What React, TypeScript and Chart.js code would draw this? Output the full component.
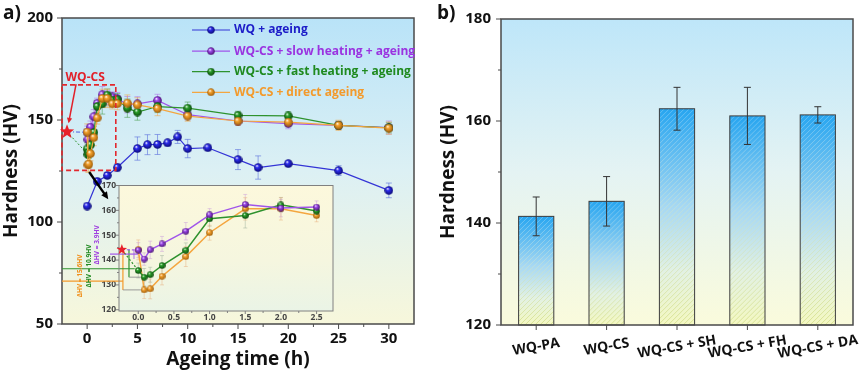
import React, { useEffect, useRef } from 'react';
import { Chart, registerables } from 'chart.js';

Chart.register(...registerables);

const FONT = '"Open Sans", "DejaVu Sans", sans-serif';

// ---------------- Panel a) data ----------------
const WQ_TIME = [0, 1, 2, 3, 5, 6, 7, 8, 9, 10, 12, 15, 17, 20, 25, 30];
const WQ_HV = [107.8, 119.9, 122.8, 126.7, 136.0, 137.9, 138.0, 138.8, 141.7, 136.0, 136.4, 130.6, 126.7, 128.6, 125.2, 115.5];
const WQ_ERR = [1.0, 1.5, 1.5, 2.0, 5.7, 4.9, 4.9, 1.5, 3.2, 4.5, 1.2, 4.9, 5.7, 1.2, 2.4, 3.6];

const CS_TIME = [0, 0.083, 0.167, 0.333, 0.667, 1, 1.5, 2, 2.5, 3, 4, 5, 7, 10, 15, 20, 25, 30];
const SH_HV = [144.0, 140.4, 144.1, 146.5, 151.6, 158.2, 162.4, 160.9, 161.3, 160.5, 157.5, 157.9, 159.6, 152.6, 149.5, 148.2, 147.4, 146.3];
const SH_ERR = [3.0, 2.5, 3.5, 3.0, 3.5, 2.5, 4.0, 3.5, 2.5, 3.0, 4.0, 3.5, 3.0, 2.5, 2.0, 2.5, 2.0, 3.2];
const FH_HV = [135.8, 133.1, 134.1, 137.8, 143.9, 156.6, 157.9, 162.2, 159.7, 160.0, 155.8, 153.9, 156.6, 155.8, 152.3, 152.0, 147.4, 146.2];
const FH_ERR = [3.0, 3.5, 3.0, 4.0, 3.0, 3.0, 5.0, 3.0, 2.5, 3.0, 4.5, 4.0, 3.0, 3.0, 2.0, 2.0, 2.0, 2.5];
const DA_HV = [144.1, 128.0, 128.4, 133.5, 141.4, 151.0, 160.6, 160.6, 157.9, 158.0, 158.3, 157.4, 155.6, 151.9, 149.5, 149.0, 147.4, 146.0];
const DA_ERR = [4.0, 3.5, 4.0, 3.5, 4.0, 3.0, 4.5, 4.5, 2.5, 3.0, 4.0, 3.5, 3.5, 2.5, 2.0, 2.0, 2.5, 3.0];

const WQCS_TIME = -2.0;
const WQCS_HV = 144.2;
const INSET_WQCS_TIME = -0.23;

const X_TICKS = [0, 5, 10, 15, 20, 25, 30];
const Y_TICKS = [50, 100, 150, 200];
const INSET_X_TICKS = [0, 0.5, 1, 1.5, 2, 2.5];
const INSET_Y_TICKS = [120, 130, 140, 150, 160, 170];
const INSET_T_MAX = 2.5;

const LEGEND_LABELS = [
  'WQ + ageing',
  'WQ-CS + slow heating + ageing',
  'WQ-CS + fast heating + ageing',
  'WQ-CS + direct ageing',
];
const DELTA_LABELS = ['ΔHV = 15.6HV', 'ΔHV = 10.9HV', 'ΔHV = 3.9HV'];

// ---------------- Panel b) data ----------------
const B_CATEGORIES = ['WQ-PA', 'WQ-CS', 'WQ-CS + SH', 'WQ-CS + FH', 'WQ-CS + DA'];
const B_HV = [141.3, 144.25, 162.4, 161.0, 161.2];
const B_ERR = [3.8, 4.85, 4.2, 5.6, 1.6];
const B_Y_TICKS = [120, 140, 160, 180];

// ---------------- helpers ----------------
function makeSphere(base: string, dark: string, size: number) {
  const c = document.createElement('canvas');
  c.width = size;
  c.height = size;
  const ctx = c.getContext('2d') as CanvasRenderingContext2D;
  const r = size / 2;
  const g = ctx.createRadialGradient(r * 0.7, r * 0.6, r * 0.05, r, r, r);
  g.addColorStop(0, '#ffffff');
  g.addColorStop(0.3, base);
  g.addColorStop(1, dark);
  ctx.fillStyle = g;
  ctx.beginPath();
  ctx.arc(r, r, r - 0.2, 0, Math.PI * 2);
  ctx.fill();
  return c;
}

function midpoints(v: number[]) {
  const out: number[] = [];
  for (let i = 0; i < v.length - 1; i++) out.push((v[i] + v[i + 1]) / 2);
  return out;
}

function drawStar(ctx: CanvasRenderingContext2D, cx: number, cy: number, R: number, r: number, color: string) {
  ctx.save();
  ctx.fillStyle = color;
  ctx.beginPath();
  for (let i = 0; i < 10; i++) {
    const rad = i % 2 === 0 ? R : r;
    const a = -Math.PI / 2 + (i * Math.PI) / 5;
    const x = cx + rad * Math.cos(a);
    const y = cy + rad * Math.sin(a);
    if (i === 0) ctx.moveTo(x, y);
    else ctx.lineTo(x, y);
  }
  ctx.closePath();
  ctx.fill();
  ctx.restore();
}

function drawArrow(ctx: CanvasRenderingContext2D, x1: number, y1: number, x2: number, y2: number, color: string, lw: number, head: number) {
  const ang = Math.atan2(y2 - y1, x2 - x1);
  ctx.save();
  ctx.strokeStyle = color;
  ctx.fillStyle = color;
  ctx.lineWidth = lw;
  ctx.beginPath();
  ctx.moveTo(x1, y1);
  ctx.lineTo(x2 - head * 0.7 * Math.cos(ang), y2 - head * 0.7 * Math.sin(ang));
  ctx.stroke();
  ctx.beginPath();
  ctx.moveTo(x2, y2);
  ctx.lineTo(x2 - head * Math.cos(ang - 0.45), y2 - head * Math.sin(ang - 0.45));
  ctx.lineTo(x2 - head * Math.cos(ang + 0.45), y2 - head * Math.sin(ang + 0.45));
  ctx.closePath();
  ctx.fill();
  ctx.restore();
}

function drawErrBars(ctx: CanvasRenderingContext2D, xs: any, ys: any, t: number[], v: number[], e: number[], color: string, cap: number, lw = 1) {
  ctx.save();
  ctx.strokeStyle = color;
  ctx.lineWidth = lw;
  ctx.beginPath();
  t.forEach((x, i) => {
    const px = xs.getPixelForValue(x);
    const y1 = ys.getPixelForValue(v[i] - e[i]);
    const y2 = ys.getPixelForValue(v[i] + e[i]);
    ctx.moveTo(px, y1);
    ctx.lineTo(px, y2);
    ctx.moveTo(px - cap, y1);
    ctx.lineTo(px + cap, y1);
    ctx.moveTo(px - cap, y2);
    ctx.lineTo(px + cap, y2);
  });
  ctx.stroke();
  ctx.restore();
}

function drawFrameTicks(chart: any, xMaj: number[], xMin: number[], yMaj: number[], yMin: number[], color: string, lw: number, major: number, minor: number) {
  const { ctx, chartArea: a, scales } = chart;
  ctx.save();
  ctx.strokeStyle = color;
  ctx.lineWidth = lw;
  ctx.strokeRect(a.left, a.top, a.right - a.left, a.bottom - a.top);
  ctx.lineWidth = 1;
  ctx.beginPath();
  const xt = (v: number, len: number) => {
    const p = scales.x.getPixelForValue(v);
    ctx.moveTo(p, a.bottom);
    ctx.lineTo(p, a.bottom + len);
  };
  const yt = (v: number, len: number) => {
    const p = scales.y.getPixelForValue(v);
    ctx.moveTo(a.left, p);
    ctx.lineTo(a.left - len, p);
  };
  xMaj.forEach((v) => xt(v, major));
  xMin.forEach((v) => xt(v, minor));
  yMaj.forEach((v) => yt(v, major));
  yMin.forEach((v) => yt(v, minor));
  ctx.stroke();
  ctx.restore();
}

function bgGradient(chart: any, stops: [number, string][]) {
  const { ctx, chartArea: a } = chart;
  const g = ctx.createLinearGradient(0, a.top, 0, a.bottom);
  stops.forEach(([o, c]) => g.addColorStop(o, c));
  ctx.save();
  ctx.fillStyle = g;
  ctx.fillRect(a.left, a.top, a.right - a.left, a.bottom - a.top);
  ctx.restore();
}

const tickFont = (size: number) => ({ family: FONT, size, weight: 'bold' as const });

export default function App() {
  const mainRef = useRef<HTMLCanvasElement>(null);
  const insetRef = useRef<HTMLCanvasElement>(null);
  const barRef = useRef<HTMLCanvasElement>(null);

  useEffect(() => {
    const charts: any[] = [];

    const SERIES = [
      { label: LEGEND_LABELS[0], t: WQ_TIME, v: WQ_HV, e: WQ_ERR, line: '#3434d6', text: '#1c1cc8', err: 'rgba(90,110,220,0.6)', base: '#2c2cf0', dark: '#0a0a70', order: 3 },
      { label: LEGEND_LABELS[1], t: CS_TIME, v: SH_HV, e: SH_ERR, line: '#a055ea', text: '#9a33e0', err: 'rgba(170,110,230,0.55)', base: '#a24df0', dark: '#45106e', order: 2 },
      { label: LEGEND_LABELS[2], t: CS_TIME, v: FH_HV, e: FH_ERR, line: '#2e922e', text: '#1f8a1f', err: 'rgba(60,150,60,0.5)', base: '#2aa02a', dark: '#0a450a', order: 1 },
      { label: LEGEND_LABELS[3], t: CS_TIME, v: DA_HV, e: DA_ERR, line: '#f4a640', text: '#f39a2c', err: 'rgba(240,165,70,0.55)', base: '#f8a530', dark: '#9a5a08', order: 0 },
    ];
    const bigSpheres = SERIES.map((s) => makeSphere(s.base, s.dark, 9));
    const smallSpheres = SERIES.map((s) => makeSphere(s.base, s.dark, 7));

    // ---------------- main chart (a) ----------------
    const mainPlugin = {
      id: 'mainDecor',
      beforeDraw(chart: any) {
        bgGradient(chart, [[0, '#b9e3f8'], [0.5, '#dcf0f4'], [1, '#f7f7db']]);
      },
      beforeDatasetsDraw(chart: any) {
        const { ctx } = chart;
        const xs = chart.scales.x, ys = chart.scales.y;
        SERIES.forEach((s) => drawErrBars(ctx, xs, ys, s.t, s.v, s.e, s.err, 3));
        const sx = xs.getPixelForValue(WQCS_TIME), sy = ys.getPixelForValue(WQCS_HV);
        ctx.save();
        ctx.lineWidth = 1;
        ctx.setLineDash([4, 2, 1, 2]);
        ctx.strokeStyle = '#4d5de0';
        ctx.beginPath();
        ctx.moveTo(sx, sy);
        ctx.lineTo(xs.getPixelForValue(CS_TIME[0]), ys.getPixelForValue(SH_HV[0]));
        ctx.stroke();
        ctx.setLineDash([2, 2]);
        ctx.strokeStyle = '#2e922e';
        ctx.beginPath();
        ctx.moveTo(sx, sy);
        ctx.lineTo(xs.getPixelForValue(CS_TIME[1]), ys.getPixelForValue(FH_HV[1]));
        ctx.stroke();
        ctx.restore();
      },
      afterDraw(chart: any) {
        const { ctx, chartArea: a } = chart;
        const xs = chart.scales.x, ys = chart.scales.y;
        drawFrameTicks(chart, X_TICKS, midpoints(X_TICKS), Y_TICKS, midpoints(Y_TICKS), '#4a4a4a', 1.5, 5, 3);

        // red dashed box around the early-stage region
        ctx.save();
        ctx.strokeStyle = '#e2282e';
        ctx.lineWidth = 1.6;
        ctx.setLineDash([5, 3]);
        const bx1 = xs.getPixelForValue(-2.5), bx2 = xs.getPixelForValue(2.85);
        const by1 = ys.getPixelForValue(167.2), by2 = ys.getPixelForValue(125.3);
        ctx.strokeRect(bx1, by1, bx2 - bx1, by2 - by1);
        ctx.restore();

        // star (WQ-CS state)
        drawStar(ctx, xs.getPixelForValue(WQCS_TIME), ys.getPixelForValue(WQCS_HV), 7.5, 3.2, '#e8202a');

        // WQ-CS label + arrow
        ctx.save();
        ctx.fillStyle = '#e2202a';
        ctx.font = `bold 12px ${FONT}`;
        ctx.textAlign = 'center';
        ctx.textBaseline = 'middle';
        ctx.fillText('WQ-CS', xs.getPixelForValue(-0.2), ys.getPixelForValue(171));
        ctx.restore();
        drawArrow(ctx, xs.getPixelForValue(-1.1), ys.getPixelForValue(167.6), xs.getPixelForValue(-1.85), ys.getPixelForValue(148.4), '#e2202a', 1.5, 6);

        // black arrow towards the inset
        drawArrow(ctx, xs.getPixelForValue(0.2), ys.getPixelForValue(124.5), xs.getPixelForValue(2.1), ys.getPixelForValue(111.2), '#000', 2.4, 8);

        // legend
        const rows = [12, 33.2, 53.7, 74.3];
        SERIES.forEach((s, i) => {
          const y = a.top + rows[i];
          ctx.save();
          ctx.strokeStyle = s.line;
          ctx.lineWidth = 1.2;
          ctx.beginPath();
          ctx.moveTo(a.left + 130, y);
          ctx.lineTo(a.left + 168, y);
          ctx.stroke();
          ctx.drawImage(bigSpheres[i], a.left + 149 - 4, y - 4, 8, 8);
          ctx.fillStyle = s.text;
          ctx.font = `bold 12px ${FONT}`;
          ctx.textAlign = 'left';
          ctx.textBaseline = 'middle';
          ctx.fillText(s.label, a.left + 172, y);
          ctx.restore();
        });

        // panel letter
        ctx.save();
        ctx.fillStyle = '#111';
        ctx.font = `bold 19px ${FONT}`;
        ctx.textBaseline = 'alphabetic';
        ctx.fillText('a)', 3, 18.5);
        ctx.restore();
      },
    };

    if (mainRef.current) {
      charts.push(
        new Chart(mainRef.current, {
          type: 'line',
          data: {
            datasets: SERIES.map((s, i) => ({
              label: s.label,
              data: s.t.map((x, k) => ({ x, y: s.v[k] })),
              borderColor: s.line,
              backgroundColor: s.line,
              borderWidth: 1.2,
              pointStyle: bigSpheres[i],
              pointRadius: 4.5,
              tension: 0,
              order: s.order,
            })),
          },
          options: {
            responsive: false,
            animation: false,
            layout: { padding: { left: 0, right: 21, top: 14, bottom: 0 } },
            plugins: { legend: { display: false }, tooltip: { enabled: false } },
            scales: {
              x: {
                type: 'linear',
                min: -2.5,
                max: 32.5,
                afterBuildTicks: (s: any) => { s.ticks = X_TICKS.map((value) => ({ value })); },
                afterFit: (s: any) => { s.height = 49; },
                grid: { display: false, drawTicks: false },
                border: { display: false },
                ticks: { padding: 6, color: '#111', font: tickFont(15), autoSkip: false, maxRotation: 0 },
                title: { display: true, text: 'Ageing time (h)', color: '#111', font: tickFont(19), padding: { top: 0, bottom: 2 } },
              },
              y: {
                type: 'linear',
                min: 50,
                max: 200,
                afterBuildTicks: (s: any) => { s.ticks = Y_TICKS.map((value) => ({ value })); },
                afterFit: (s: any) => { s.width = 62; },
                grid: { display: false, drawTicks: false },
                border: { display: false },
                ticks: { padding: 9, color: '#111', font: tickFont(15) },
                title: { display: true, text: 'Hardness (HV)', color: '#111', font: tickFont(19), padding: { top: 0, bottom: 0 } },
              },
            },
          },
          plugins: [mainPlugin],
        } as any)
      );
    }

    // ---------------- inset chart ----------------
    const nIn = CS_TIME.filter((t) => t <= INSET_T_MAX).length;
    const INSET_SERIES = SERIES.slice(1).map((s, i) => ({ ...s, t: s.t.slice(0, nIn), v: s.v.slice(0, nIn), e: s.e.slice(0, nIn), sphere: smallSpheres[i + 1] }));

    const insetPlugin = {
      id: 'insetDecor',
      beforeDraw(chart: any) {
        bgGradient(chart, [[0, '#fcf8dc'], [0.6, '#f5f6df'], [1, '#eaf4e6']]);
      },
      beforeDatasetsDraw(chart: any) {
        const { ctx, chartArea: a } = chart;
        const xs = chart.scales.x, ys = chart.scales.y;
        ctx.save();
        ctx.beginPath();
        ctx.rect(a.left, a.top, a.right - a.left, a.bottom - a.top);
        ctx.clip();
        const faint = ['rgba(200,150,220,0.45)', 'rgba(150,170,150,0.45)', 'rgba(230,170,120,0.45)'];
        INSET_SERIES.forEach((s, i) => drawErrBars(ctx, xs, ys, s.t, s.v, s.e, faint[i], 2));
        ctx.restore();

        const sx = xs.getPixelForValue(INSET_WQCS_TIME), sy = ys.getPixelForValue(WQCS_HV);
        const X = (v: number) => xs.getPixelForValue(v);
        const Y = (v: number) => ys.getPixelForValue(v);
        ctx.save();
        ctx.lineWidth = 1.2;
        const seg = (x1: number, y1: number, x2: number, y2: number, c: string, dash: number[] = []) => {
          ctx.strokeStyle = c;
          ctx.setLineDash(dash);
          ctx.beginPath();
          ctx.moveTo(x1, y1);
          ctx.lineTo(x2, y2);
          ctx.stroke();
        };
        seg(0, Y(131.5), X(-0.215), Y(131.5), '#f39a2c');
        seg(X(-0.215), Y(WQCS_HV), X(-0.215), Y(DA_HV[1]), '#f39a2c');
        seg(X(-0.215), Y(DA_HV[1]), X(CS_TIME[1]), Y(DA_HV[1]), 'rgba(150,150,150,0.8)');
        seg(0, Y(136.5), X(-0.05), Y(136.5), '#2e922e');
        seg(X(-0.13), Y(WQCS_HV), X(-0.13), Y(FH_HV[1]), '#2e922e');
        seg(X(-0.13), Y(FH_HV[1]), X(CS_TIME[1]), Y(FH_HV[1]), 'rgba(150,150,150,0.8)');
        seg(a.left - 9, Y(142.4), X(0), Y(142.4), '#a055ea');
        seg(X(-0.06), Y(WQCS_HV), X(-0.06), Y(SH_HV[1]), 'rgba(160,90,230,0.7)');
        seg(sx, sy, X(CS_TIME[0]), Y(FH_HV[0]), '#2e922e', [2, 2]);
        seg(sx, sy, X(CS_TIME[0]), Y(SH_HV[0]), '#a055ea', [3, 2]);
        ctx.restore();

        const texts = [
          { t: DELTA_LABELS[0], c: '#f0901c', dx: -39, hv: 133.6 },
          { t: DELTA_LABELS[1], c: '#228a22', dx: -29.5, hv: 137.6 },
          { t: DELTA_LABELS[2], c: '#a040e0', dx: -21.5, hv: 146.1 },
        ];
        texts.forEach((o) => {
          ctx.save();
          ctx.translate(a.left + o.dx, Y(o.hv));
          ctx.rotate(-Math.PI / 2);
          ctx.fillStyle = o.c;
          ctx.font = `bold 6.5px ${FONT}`;
          ctx.textAlign = 'center';
          ctx.textBaseline = 'middle';
          ctx.fillText(o.t, 0, 0);
          ctx.restore();
        });
      },
      afterDraw(chart: any) {
        const xs = chart.scales.x, ys = chart.scales.y;
        drawFrameTicks(chart, INSET_X_TICKS, midpoints(INSET_X_TICKS), INSET_Y_TICKS, midpoints(INSET_Y_TICKS), '#808080', 1, 3, 2);
        drawStar(chart.ctx, xs.getPixelForValue(INSET_WQCS_TIME), ys.getPixelForValue(WQCS_HV), 5.5, 2.3, '#e8202a');
      },
    };

    if (insetRef.current) {
      charts.push(
        new Chart(insetRef.current, {
          type: 'line',
          data: {
            datasets: INSET_SERIES.map((s) => ({
              label: s.label,
              data: s.t.map((x, k) => ({ x, y: s.v[k] })),
              borderColor: s.line,
              backgroundColor: s.line,
              borderWidth: 1.5,
              pointStyle: s.sphere,
              pointRadius: 3.5,
              tension: 0,
              order: 3 - s.order,
            })),
          },
          options: {
            responsive: false,
            animation: false,
            layout: { padding: { left: 0, right: 12, top: 9.5, bottom: 0 } },
            plugins: { legend: { display: false }, tooltip: { enabled: false } },
            scales: {
              x: {
                type: 'linear',
                min: -0.27,
                max: 2.73,
                afterBuildTicks: (s: any) => { s.ticks = INSET_X_TICKS.map((value) => ({ value })); },
                afterFit: (s: any) => { s.height = 14; },
                grid: { display: false, drawTicks: false },
                border: { display: false },
                ticks: { padding: 1, color: '#444', font: tickFont(8.5), autoSkip: false, maxRotation: 0, callback: (v: any) => Number(v).toFixed(1) },
              },
              y: {
                type: 'linear',
                min: 119.5,
                max: 170,
                afterBuildTicks: (s: any) => { s.ticks = INSET_Y_TICKS.map((value) => ({ value })); },
                afterFit: (s: any) => { s.width = 57; },
                grid: { display: false, drawTicks: false },
                border: { display: false },
                ticks: { padding: 3, color: '#444', font: tickFont(8.5) },
              },
            },
          },
          plugins: [insetPlugin],
        } as any)
      );
    }

    // ---------------- bar chart (b) ----------------
    const barPlugin = {
      id: 'barDecor',
      beforeDraw(chart: any) {
        bgGradient(chart, [[0, '#bee6f9'], [0.5, '#e4f3f3'], [1, '#fafbdc']]);
      },
      afterDatasetsDraw(chart: any) {
        const { ctx, chartArea: a } = chart;
        const meta = chart.getDatasetMeta(0);
        meta.data.forEach((bar: any) => {
          const p = bar.getProps(['x', 'y', 'base', 'width'], true);
          const x0 = p.x - p.width / 2;
          const y = Math.max(p.y, a.top);
          const base = Math.min(p.base, a.bottom);
          const h = base - y;
          const width = p.width;
          ctx.save();
          ctx.beginPath();
          ctx.rect(x0, y, width, h);
          ctx.clip();
          const g = ctx.createLinearGradient(0, y, 0, base);
          g.addColorStop(0, 'rgba(255,255,255,0.25)');
          g.addColorStop(1, 'rgba(190,205,100,0.5)');
          ctx.strokeStyle = g;
          ctx.lineWidth = 1;
          ctx.beginPath();
          for (let k = -h; k < width + 5; k += 5) {
            ctx.moveTo(x0 + k, base);
            ctx.lineTo(x0 + k + h, y);
          }
          ctx.stroke();
          ctx.restore();
          ctx.save();
          ctx.strokeStyle = '#3d3d3d';
          ctx.lineWidth = 1;
          ctx.strokeRect(x0, y, width, h);
          ctx.restore();
        });
        drawErrBars(ctx, chart.scales.x, chart.scales.y, B_HV.map((_, i) => i), B_HV, B_ERR, '#333', 3.5);
      },
      afterDraw(chart: any) {
        const { ctx, chartArea: a } = chart;
        const xs = chart.scales.x;
        drawFrameTicks(chart, B_CATEGORIES.map((_, i) => i), [], B_Y_TICKS, midpoints(B_Y_TICKS), '#4a4a4a', 1.5, 5, 3);
        B_CATEGORIES.forEach((lab, i) => {
          ctx.save();
          ctx.translate(xs.getPixelForValue(i), a.bottom + 22);
          ctx.rotate((-10 * Math.PI) / 180);
          ctx.fillStyle = '#111';
          ctx.font = `bold 14px ${FONT}`;
          ctx.textAlign = 'center';
          ctx.textBaseline = 'middle';
          ctx.fillText(lab, 0, 0);
          ctx.restore();
        });
        ctx.save();
        ctx.fillStyle = '#111';
        ctx.font = `bold 19px ${FONT}`;
        ctx.textBaseline = 'alphabetic';
        ctx.fillText('b)', 2, 18.5);
        ctx.restore();
      },
    };

    if (barRef.current) {
      charts.push(
        new Chart(barRef.current, {
          type: 'bar',
          data: {
            labels: B_CATEGORIES,
            datasets: [
              {
                label: 'Hardness',
                data: B_HV,
                base: B_Y_TICKS[0],
                borderWidth: 0,
                barPercentage: 0.5,
                categoryPercentage: 1.0,
                backgroundColor: (c: any) => {
                  const chart = c.chart;
                  const area = chart.chartArea;
                  if (!area || c.type !== 'data' || !chart.scales.y) return '#29a9f1';
                  const top = chart.scales.y.getPixelForValue(c.raw);
                  const g = chart.ctx.createLinearGradient(0, top, 0, area.bottom);
                  g.addColorStop(0, '#26a5f0');
                  g.addColorStop(0.45, '#a6d8f3');
                  g.addColorStop(0.75, '#e2f1e4');
                  g.addColorStop(1, '#f4f8c2');
                  return g;
                },
              },
            ],
          },
          options: {
            responsive: false,
            animation: false,
            layout: { padding: { left: 0, right: 12, top: 14, bottom: 0 } },
            plugins: { legend: { display: false }, tooltip: { enabled: false } },
            scales: {
              x: {
                type: 'category',
                afterFit: (s: any) => { s.height = 48; },
                grid: { display: false, drawTicks: false },
                border: { display: false },
                ticks: { display: false },
              },
              y: {
                type: 'linear',
                min: 120,
                max: 180,
                afterBuildTicks: (s: any) => { s.ticks = B_Y_TICKS.map((value) => ({ value })); },
                afterFit: (s: any) => { s.width = 66; },
                grid: { display: false, drawTicks: false },
                border: { display: false },
                ticks: { padding: 10, color: '#111', font: tickFont(15) },
                title: { display: true, text: 'Hardness (HV)', color: '#111', font: tickFont(19), padding: { top: 2.6, bottom: 0 } },
              },
            },
          },
          plugins: [barPlugin],
        } as any)
      );
    }

    return () => charts.forEach((c) => c.destroy());
  }, []);

  return (
    <div style={{ position: 'absolute', left: 0, top: 0, width: 865, height: 373, background: '#ffffff', overflow: 'hidden' }}>
      <canvas ref={mainRef} width={435} height={373} style={{ position: 'absolute', left: 0, top: 0 }} />
      <canvas ref={insetRef} width={283} height={149} style={{ position: 'absolute', left: 62, top: 176 }} />
      <canvas ref={barRef} width={430} height={373} style={{ position: 'absolute', left: 435, top: 0 }} />
    </div>
  );
}
